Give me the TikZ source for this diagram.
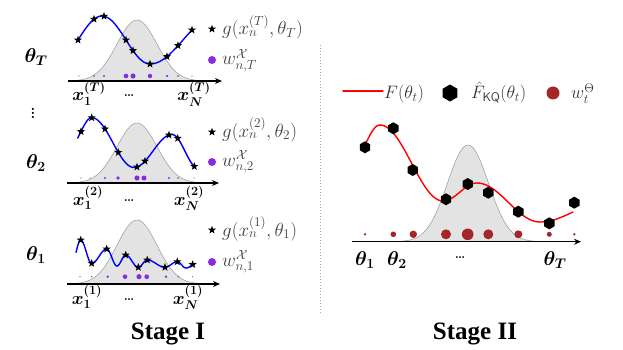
\RequirePackage{fix-cm}
\documentclass[tikz,border=0pt]{standalone}
\usepackage{amsmath}
\usepackage{bm}
\usepackage[no-math]{fontspec}
\newfontfamily\stagefont{Liberation Serif}
\usetikzlibrary{shapes.geometric,arrows.meta}
\definecolor{wpurple}{RGB}{138,43,226}
\definecolor{wred}{RGB}{165,38,38}
\definecolor{divblue}{RGB}{140,180,215}
\tikzset{
  axisline/.style={line width=1.3pt,-{Stealth[length=7pt,width=6pt]}},
  gauss/.style={fill=black!11,draw=black!40,line width=0.5pt},
  bluecurve/.style={blue,line width=1.4pt,line cap=round},
  redcurve/.style={red,line width=1.4pt,line cap=round},
  starm/.style={star,star points=5,star point ratio=2.4,fill=black,inner sep=0pt,minimum size=8.5pt},
  hexm/.style={regular polygon,regular polygon sides=6,shape border rotate=30,fill=black,inner sep=0pt,minimum size=12pt},
  thlab/.style={font=\fontsize{20}{22}\selectfont,inner sep=0pt},
  xlab/.style={font=\fontsize{18}{20}\selectfont,anchor=base,inner sep=0pt},
  dotlab/.style={font=\bfseries\fontsize{13}{15}\selectfont,anchor=base,inner sep=0pt},
  leg/.style={font=\fontsize{19}{21}\selectfont,text=black!75,anchor=base west,inner sep=0pt},
  rleg/.style={font=\fontsize{18}{20}\selectfont,text=black!80,anchor=base west,inner sep=0pt},
  stagelab/.style={font=\stagefont\bfseries\fontsize{25}{28}\selectfont,anchor=base,inner sep=0pt},
}
\begin{document}
\begin{tikzpicture}[x=1pt,y=-1pt]
\useasboundingbox (0,0) rectangle (623,350);

% ---------- Stage I, panel T ----------
\draw[gauss] plot[domain=77:197,samples=90] (\x,{81-61*exp(-((\x-137)^2)/800)}) -- cycle;
\coordinate (aT0) at (68,81); \coordinate (aT1) at (222,81);
\draw[axisline] (aT0) -- (aT1);
\foreach \xa/\ya/\xb/\yb/\xs/\xe in {54/64/102/16/78/102, 102/16/150/64/102/150, 150/64/216/16/150/192}
  \draw[bluecurve] plot[domain=\xs:\xe,samples=30] (\x,{(\ya+\yb)/2+(\ya-\yb)/2*cos(180*(\x-\xa)/(\xb-\xa))});
\foreach \x/\y [count=\i] in {78/40,94/19.2,104/16.2,126/40,133/50.6,150/64,167/56.6,178/45.6,192/30}
  \node[starm] (sT\i) at (\x,\y) {};
\foreach \x in {79,94,104,126,133,150,167,178,192}
  \fill[wpurple] (\x,76) circle[radius={(0.6+2*exp(-((\x-137)^2)/800))*1pt}];
\node[thlab] (thT) at (36,57) {$\bm{\theta_T}$};
\node[xlab] (x1T) at (89,101) {$\bm{x_1^{(T)}}$};
\node[dotlab] (dT) at (129,97) {\dots};
\node[xlab] (xNT) at (194,101) {$\bm{x_N^{(T)}}$};
\node[starm] (lsT) at (212,29) {};
\node[leg] (lgT) at (222,35) {$g(x_n^{(T)},\theta_T)$};
\fill[wpurple] (212,60) circle[radius=4pt];
\node[leg] (lwT) at (222,65) {$w_{n,T}^{\mathcal{X}}$};
\node[font=\bfseries\fontsize{15}{17}\selectfont,inner sep=0pt] (vd) at (33,110) {\vdots};

% ---------- Stage I, panel 2 ----------
\draw[gauss] plot[domain=77:197,samples=90] (\x,{183-60*exp(-((\x-137)^2)/800)}) -- cycle;
\coordinate (a20) at (67,183); \coordinate (a21) at (219,183);
\draw[axisline] (a20) -- (a21);
\foreach \xa/\ya/\xb/\yb/\xs/\xe in {70/146/91.7/117.7/77.7/91.7, 91.7/117.7/134/167.5/91.7/134, 134/167.5/172/134.5/134/172, 172/134.5/198/168/172/194.3}
  \draw[bluecurve] plot[domain=\xs:\xe,samples=30] (\x,{(\ya+\yb)/2+(\ya-\yb)/2*cos(180*(\x-\xa)/(\xb-\xa))});
\foreach \x/\y [count=\i] in {81/131.6,91.7/117.7,105/128.9,118.3/152.4,137/167,145/161.1,169/135,177.7/138.3,194.3/166.4}
  \node[starm] (s2\i) at (\x,\y) {};
\foreach \x in {81,90,105,118,137,144,169,178,194}
  \fill[wpurple] (\x,178) circle[radius={(0.6+2*exp(-((\x-137)^2)/800))*1pt}];
\node[thlab] (th2) at (36,163) {$\bm{\theta_2}$};
\node[xlab] (x12) at (88,205) {$\bm{x_1^{(2)}}$};
\node[dotlab] (d2) at (129,201) {\dots};
\node[xlab] (xN2) at (189,205) {$\bm{x_N^{(2)}}$};
\node[starm] (ls2) at (212,132) {};
\node[leg] (lg2) at (222,137) {$g(x_n^{(2)},\theta_2)$};
\fill[wpurple] (212,162) circle[radius=4pt];
\node[leg] (lw2) at (222,166) {$w_{n,2}^{\mathcal{X}}$};

% ---------- Stage I, panel 1 ----------
\draw[gauss] plot[domain=77:197,samples=90] (\x,{284-64*exp(-((\x-137)^2)/800)}) -- cycle;
\coordinate (a10) at (67,284); \coordinate (a11) at (220,284);
\draw[axisline] (a10) -- (a11);
\foreach \xa/\ya/\xb/\yb/\xs/\xe in {72/262/80.7/240/76/80.7, 80.7/240/91.7/263.3/80.7/91.7, 91.7/263.3/106.7/249/91.7/106.7, 106.7/249/117/266/106.7/117, 117/266/125.7/255/117/125.7, 125.7/255/138.3/267.3/125.7/138.3, 138.3/267.3/147.3/260/138.3/147.3, 147.3/260/165/267.3/147.3/165, 165/267.3/177.3/261.7/165/177.3, 177.3/261.7/186/268/177.3/186, 186/268/198/262/186/192.7}
  \draw[bluecurve] plot[domain=\xs:\xe,samples=20] (\x,{(\ya+\yb)/2+(\ya-\yb)/2*cos(180*(\x-\xa)/(\xb-\xa))});
\foreach \x/\y [count=\i] in {80.7/240,91.7/263.3,106.7/249,125.7/255,138.3/267.3,147.3/260,165/267.3,177.3/261.7,192.7/264.5}
  \node[starm] (s1\i) at (\x,\y) {};
\foreach \x in {80,91.7,107.7,125,139,146.7,166,178.3,192.7}
  \fill[wpurple] (\x,276.7) circle[radius={(0.6+2*exp(-((\x-137)^2)/800))*1pt}];
\node[thlab] (th1) at (36,255) {$\bm{\theta_1}$};
\node[xlab] (x11) at (87,304) {$\bm{x_1^{(1)}}$};
\node[dotlab] (d1) at (129,300) {\dots};
\node[xlab] (xN1) at (188,304) {$\bm{x_N^{(1)}}$};
\node[starm] (ls1) at (212,230) {};
\node[leg] (lg1) at (222,236) {$g(x_n^{(1)},\theta_1)$};
\fill[wpurple] (212,262) circle[radius=4pt];
\node[leg] (lw1) at (222,266) {$w_{n,1}^{\mathcal{X}}$};

\node[stagelab] (st1) at (168,339) {Stage I};

% ---------- divider ----------
\coordinate (dv0) at (320,45); \coordinate (dv1) at (320,313);
\draw[divblue,dotted,line width=1pt] (dv0) -- (dv1);

% ---------- Stage II ----------
\coordinate (rl0) at (343,91); \coordinate (rl1) at (383,91);
\draw[redcurve] (rl0) -- (rl1);
\node[rleg] (lF) at (384,99) {$F(\theta_t)$};
\node[hexm,minimum size=17pt] (lh) at (450,93) {};
\node[rleg] (lFh) at (471,99) {$\hat{F}_{\mathsf{KQ}}(\theta_t)$};
\fill[wred] (553,93) circle[radius=6.5pt];
\node[rleg] (lwt) at (571,99) {$w_t^{\Theta}$};

\draw[gauss] plot[domain=400:536,samples=90] (\x,{241.7-96.7*exp(-((\x-468)^2)/840)}) -- cycle;
\coordinate (ar0) at (352,241.7); \coordinate (ar1) at (581,241.7);
\draw[axisline] (ar0) -- (ar1);
\foreach \xa/\ya/\xb/\yb/\xs/\xe in {350/165/380/125/365/380, 380/125/443/201/380/443, 443/201/477/183/443/477, 477/183/540/222/477/540, 540/222/603/203.4/540/573}
  \draw[redcurve] plot[domain=\xs:\xe,samples=30] (\x,{(\ya+\yb)/2+(\ya-\yb)/2*cos(180*(\x-\xa)/(\xb-\xa))});
\foreach \x/\y [count=\i] in {365/147.3,393.3/128.3,412.7/170,446/199.3,467.7/184,488.3/192.7,518.3/211.7,549.3/223.3,574.3/202.7}
  \node[hexm] (h\i) at (\x,\y) {};
\foreach \x/\r in {365/1.3,393.3/2.8,413.3/3.7,446/5,467.7/5.8,488.3/5,518.3/4,549.3/2.5,574.3/1.3}
  \fill[wred] (\x,234.3) circle[radius=\r pt];
\node[thlab] (r1) at (365,260) {$\bm{\theta_1}$};
\node[thlab] (r2) at (397,260) {$\bm{\theta_2}$};
\node[dotlab] (rd) at (460,258) {\dots};
\node[thlab] (rT) at (555,260) {$\bm{\theta_T}$};

\node[stagelab] (st2) at (475,339) {Stage II};
\end{tikzpicture}
\end{document}
